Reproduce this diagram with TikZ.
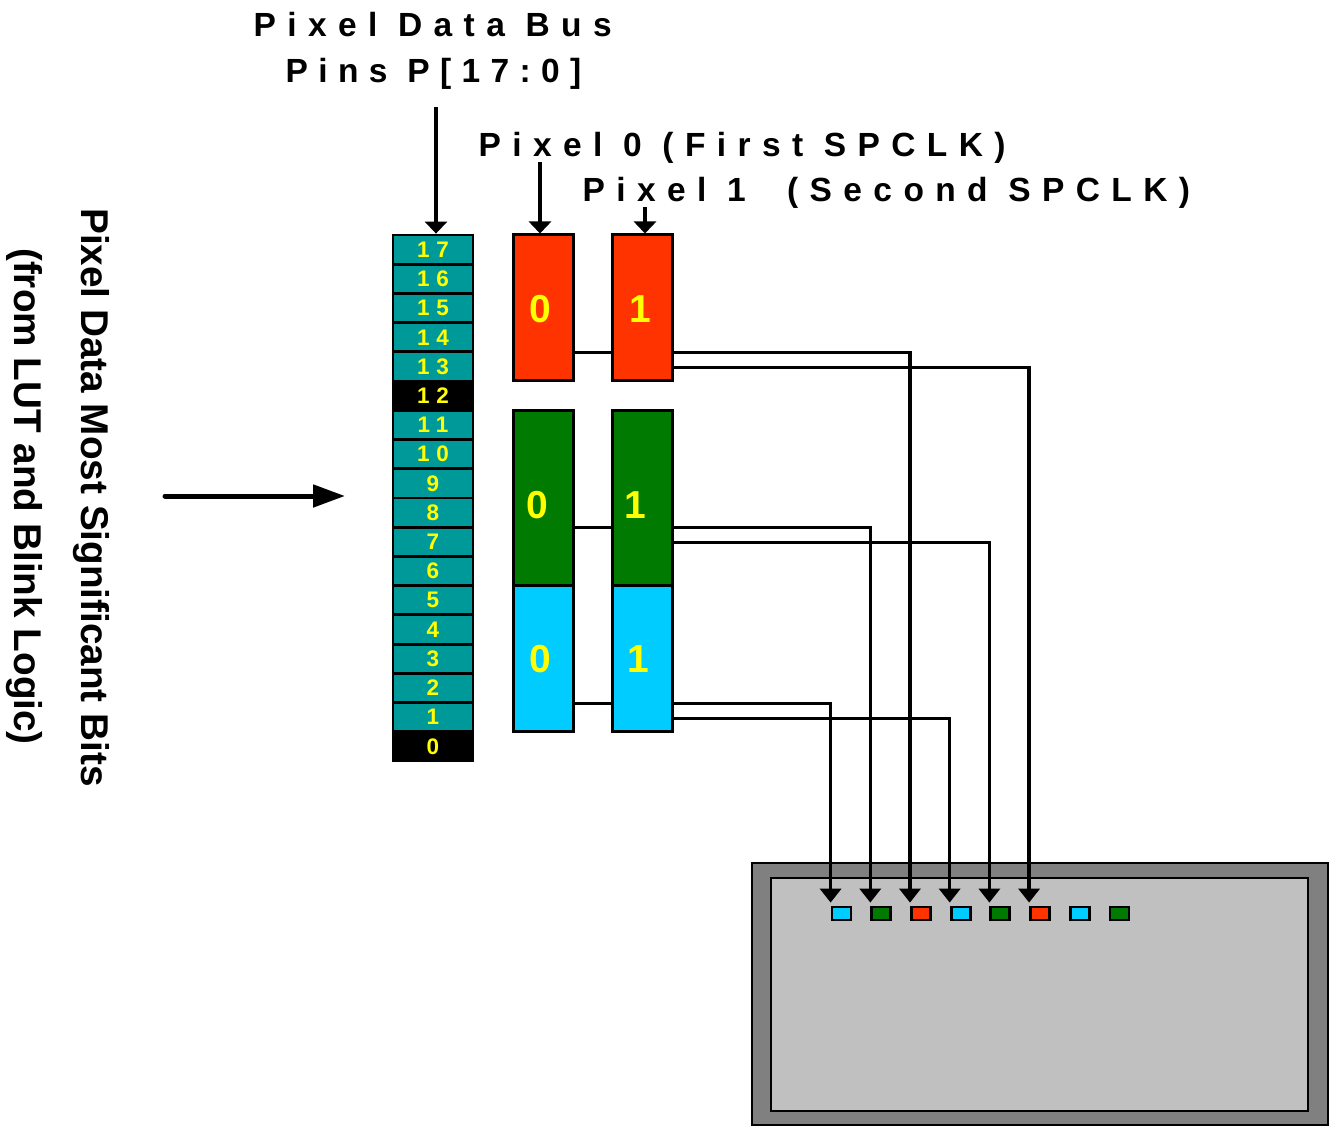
\documentclass[tikz,border=0pt]{standalone}
\usepackage{fontspec}
\setmainfont{Liberation Sans}
\newfontfamily\spacedfont[LetterSpace=34]{Liberation Sans}
\newfontfamily\pinfont[LetterSpace=31]{Liberation Sans}
\usetikzlibrary{arrows.meta}

\definecolor{bitteal}{RGB}{0,153,153}
\definecolor{pxred}{RGB}{255,51,0}
\definecolor{pxgreen}{RGB}{0,122,0}
\definecolor{pxcyan}{RGB}{0,204,255}
\definecolor{digityellow}{RGB}{255,255,0}
\definecolor{framegray}{RGB}{128,128,128}
\definecolor{screengray}{RGB}{192,192,192}

\pgfdeclarelayer{displaylayer}
\pgfdeclarelayer{wirelayer}
\pgfsetlayers{displaylayer,wirelayer,main}

\begin{document}
\begin{tikzpicture}[x=1pt,y=-1pt,
  bitcell/.style={draw=black, line width=2.8pt, fill=bitteal, minimum width=80pt,
    minimum height=29.22pt, inner sep=0pt, text=digityellow,
    font=\pinfont\bfseries\fontsize{22.5}{22.5}\selectfont},
  bitblack/.style={bitcell, fill=black},
  pixbox/.style={draw=black, line width=3pt, minimum width=60pt, inner sep=0pt},
  bigdigit/.style={inner sep=0pt, text=digityellow, font=\bfseries\fontsize{39}{39}\selectfont},
  sq/.style={draw=black, line width=2.8pt, minimum width=19pt, minimum height=13pt, inner sep=0pt},
  title/.style={inner sep=0pt, font=\spacedfont\bfseries\fontsize{33.5}{40}\selectfont},
  pintitle/.style={inner sep=0pt, font=\pinfont\bfseries\fontsize{33.5}{40}\selectfont},
  sidetext/.style={inner sep=0pt, rotate=-90, anchor=base, font=\bfseries\fontsize{38.7}{46}\selectfont},
  feed/.style={line width=3.3pt, -{Triangle[width=22pt,length=12pt]}},
  wire/.style={line width=3.5pt, -{Triangle[width=21pt,length=14pt]}, shorten >=3pt},
]
\useasboundingbox (0,0) rectangle (1331,1126);

% headings
\node[title, anchor=base west]    (tbus)  at (253.5,37)  {Pixel Data Bus};
\node[pintitle, anchor=base west] (tpins) at (285.5,83)  {Pins P[17:0]};
\node[title, anchor=base west]    (tpix0) at (478.5,157) {Pixel 0 (First SPCLK)};
\node[title, anchor=base west]    (tpix1) at (582.5,202) {Pixel 1\ \ (Second SPCLK)};

% side caption
\node[sidetext] (side1) at (81,497.5) {Pixel Data Most Significant Bits};
\node[sidetext] (side2) at (14,496.5) {(from LUT and Blink Logic)};

% pixel data bus pins
\foreach \b/\st in {17/bitcell,16/bitcell,15/bitcell,14/bitcell,13/bitcell,12/bitblack,
                    11/bitcell,10/bitcell,9/bitcell,8/bitcell,7/bitcell,6/bitcell,
                    5/bitcell,4/bitcell,3/bitcell,2/bitcell,1/bitcell,0/bitblack}
  \node[\st] (b\b) at (433,{235+(17-\b)*29.222+14.611}) {\b};

% pixel 0 and pixel 1 colour fields
\node[pixbox, fill=pxred,   minimum height=145pt] (red0) at (543,307.5) {};
\node[pixbox, fill=pxred,   minimum height=145pt] (red1) at (642.5,307.5) {};
\node[pixbox, fill=pxgreen, minimum height=175pt] (grn0) at (543,497.5) {};
\node[pixbox, fill=pxgreen, minimum height=175pt] (grn1) at (642.5,497.5) {};
\node[pixbox, fill=pxcyan,  minimum height=146pt] (cyn0) at (543,658) {};
\node[pixbox, fill=pxcyan,  minimum height=146pt] (cyn1) at (642.5,658) {};

\node[bigdigit] (r0d) at (540,309)   {0};
\node[bigdigit] (r1d) at (640,309)   {1};
\node[bigdigit] (g0d) at (537,505)   {0};
\node[bigdigit] (g1d) at (635,505)   {1};
\node[bigdigit] (c0d) at (540,659)   {0};
\node[bigdigit] (c1d) at (638.5,659) {1};

% display panel
\begin{pgfonlayer}{displaylayer}
  \node[draw=black, line width=2.8pt, fill=framegray, minimum width=576pt,
        minimum height=262pt, inner sep=0pt] (dispout) at (1040,994) {};
  \node[draw=black, line width=2.8pt, fill=screengray, minimum width=537pt,
        minimum height=233pt, inner sep=0pt] (dispin) at (1039.5,994.5) {};
\end{pgfonlayer}

% sub-pixels on the panel
\foreach \i/\c in {1/pxcyan,2/pxgreen,3/pxred,4/pxcyan,5/pxgreen,6/pxred,7/pxcyan,8/pxgreen}
  \node[sq, fill=\c] (s\i) at ({841.5+39.7*(\i-1)},913.5) {};

% incoming arrows
\coordinate (busfrom) at (436,107);
\coordinate (p0from) at (540,162);
\coordinate (p1from) at (645,207);
\draw[feed] (busfrom) -- (busfrom |- b17.north);
\draw[feed] (p0from) -- (p0from |- red0.north);
\draw[feed] (p1from) -- (p1from |- red1.north);

\coordinate (feedL) at (165,496);
\coordinate (feedR) at (345,496);
\draw[line width=5pt, line cap=round, -{Triangle[width=22pt,length=32pt]}] (feedL) -- (feedR);

% routing of colour fields to sub-pixels
\begin{pgfonlayer}{wirelayer}
  \draw[wire] ([yshift=29pt]red0.south east) -| (s3.north west);
  \draw[wire] ([yshift=14pt]red1.south east) -| (s6.north west);
  \draw[wire] ([yshift=59pt]grn0.south east) -| (s2.north west);
  \draw[wire] ([yshift=44pt]grn1.south east) -| (s5.north west);
  \draw[wire] ([yshift=29pt]cyn0.south east) -| (s1.north west);
  \draw[wire] ([yshift=14pt]cyn1.south east) -| (s4.north west);
\end{pgfonlayer}
\end{tikzpicture}
\end{document}
